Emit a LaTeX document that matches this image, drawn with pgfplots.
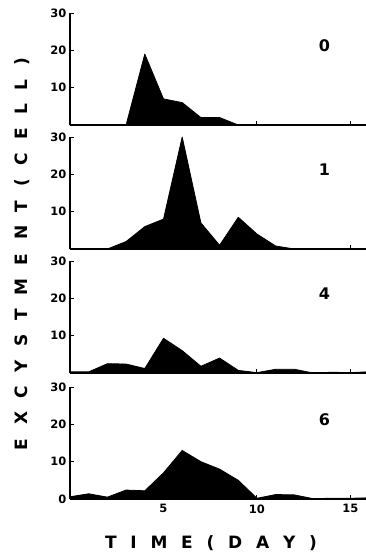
\documentclass[border=0pt]{standalone}
\usepackage{fontspec}
\setmainfont{DejaVu Sans}
\usepackage{pgfplots}
\pgfplotsset{compat=1.18}
\pgfplotsset{
  panel/.style={
    scale only axis,
    width=296pt, height=112pt,
    xmin=0, xmax=15.83, ymin=0, ymax=30,
    axis x line=bottom, axis y line=left,
    axis line style={-, line width=1.6pt},
    tick align=inside, major tick length=4pt,
    tick style={line width=1pt, black},
    xtick={5,10,15}, ytick={10,20,30},
    xticklabels={},
    /pgf/number format/assume math mode=true,
    tick label style={font=\fontsize{11.5}{12}\selectfont\bfseries},
    xticklabel style={yshift=-2pt},
    clip=false,
  },
  area/.style={fill=black, draw=black, line width=0.8pt, line join=round},
}
\newcommand{\plab}[1]{\node[font=\fontsize{16}{18}\selectfont\bfseries] at (rel axis cs:0.86,0.71) {#1};}
\begin{document}
\begin{tikzpicture}
\path[use as bounding box] (-70pt,-434pt) rectangle (296pt,125pt);
% panel 0
\begin{axis}[panel, at={(0pt,0pt)}]
\addplot[area] coordinates {(0,0)(1,0)(2,0)(3,0)(4,19)(5,7)(6,6)(7,2)(8,2)(9,0)(10,0)(11,0)(12,0)(13,0)(14,0)(15,0)(15.83,0)} \closedcycle;
\plab{0}
\end{axis}
% panel 1
\begin{axis}[panel, at={(0pt,-124pt)}]
\addplot[area] coordinates {(0,0)(1,0)(2,0)(3,2)(4,6)(5,8)(6,30)(7,7)(8,1)(9,8.5)(10,4)(11,0.8)(12,0)(13,0)(14,0)(15,0)(15.83,0)} \closedcycle;
\plab{1}
\end{axis}
% panel 4
\begin{axis}[panel, at={(0pt,-248pt)}]
\addplot[area] coordinates {(0,0.3)(1,0.3)(2,2.5)(3,2.4)(4,1.2)(5,9.3)(6,6)(7,1.8)(8,4)(9,0.7)(10,0.1)(11,1)(12,1)(13,0)(14,0.2)(15,0.1)(15.83,0.3)} \closedcycle;
\plab{4}
\end{axis}
% panel 6
\begin{axis}[panel, at={(0pt,-374pt)}, ytick={0,10,20,30}, xticklabels={5,10,15}]
\addplot[area] coordinates {(0,0.6)(1,1.4)(2,0.5)(3,2.4)(4,2.2)(5,7)(6,13)(7,10)(8,8)(9,5)(10,0.2)(11,1.2)(12,1.1)(13,0.1)(14,0.2)(15,0.2)(15.83,0.3)} \closedcycle;
\plab{6}
\end{axis}
\node[rotate=90, font=\fontsize{17}{19}\selectfont\bfseries] at (-48pt,-129pt)
  {\makebox[392pt][s]{E X C Y S T M E N T ( C E L L )}};
\node[font=\fontsize{17}{19}\selectfont\bfseries] at (141pt,-418pt)
  {\makebox[212pt][s]{T I M E ( D A Y )}};
\end{tikzpicture}
\end{document}
